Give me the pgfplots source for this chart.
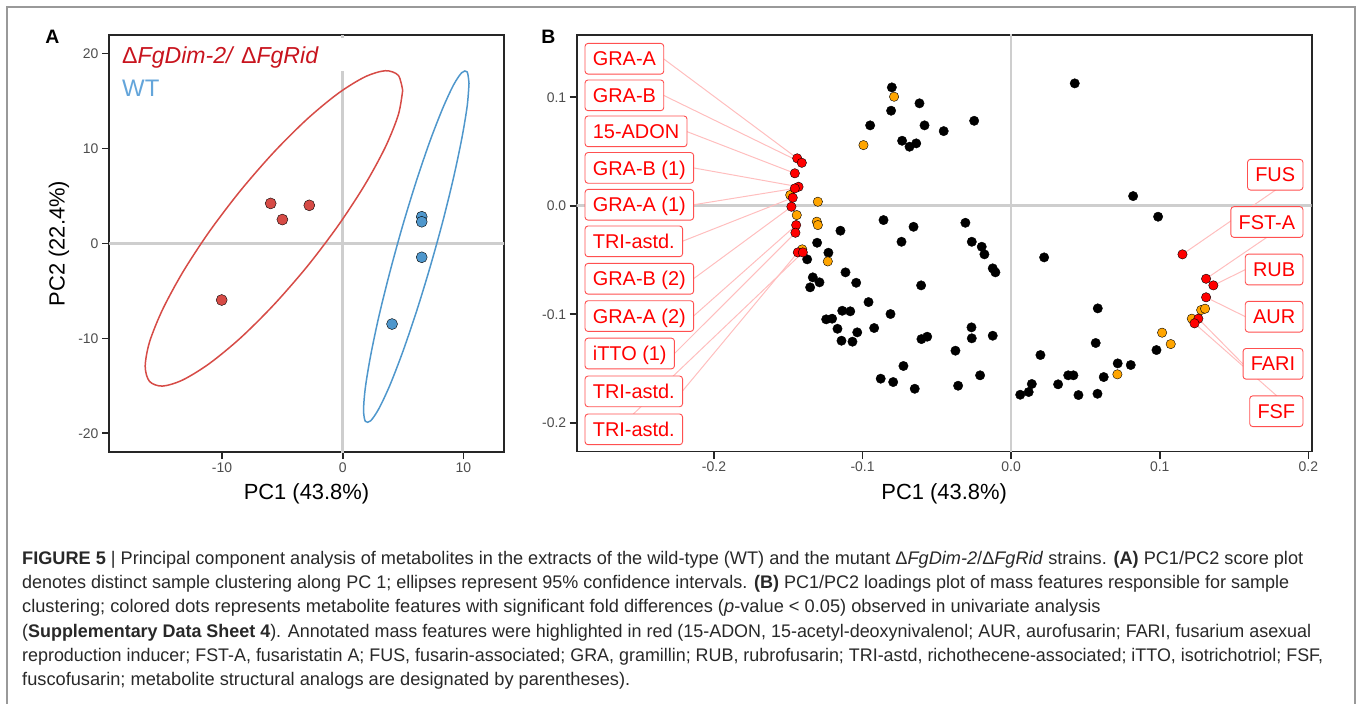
\documentclass[border=0pt]{standalone}
\usepackage{fontspec}
\setmainfont{Liberation Sans}
\usepackage{pgfplots}
\pgfplotsset{compat=1.18}

\definecolor{redA}{RGB}{214,75,70}
\definecolor{blueA}{RGB}{79,151,204}
\definecolor{legred}{RGB}{200,20,30}
\definecolor{legblue}{RGB}{100,165,218}
\definecolor{tickgray}{RGB}{77,77,77}
\definecolor{zerogray}{RGB}{206,206,206}
\definecolor{segpink}{RGB}{255,190,190}
\definecolor{boxred}{RGB}{255,80,80}
\definecolor{dotorange}{RGB}{255,165,0}
\definecolor{captext}{RGB}{40,40,40}

\pgfplotsset{
  pcastyle/.style={
    scale only axis,
    axis line style={line width=1.6bp, black!85},
    tick style={line width=1.6bp, black!85},
    major tick length=7bp,
    tick align=outside, tick pos=left,
    tick label style={font=\fontsize{14}{14}\selectfont, text=tickgray},
  },
  zeroline/.style={zerogray, line width=2.6bp, forget plot},
  seg/.style={segpink, line width=1bp},
}
\tikzset{
  labelbox/.style={draw=boxred, fill=white, rounded corners=3bp, line width=0.9bp,
    text=red, font=\fontsize{20}{20}\selectfont, minimum height=30.7bp,
    inner xsep=7.8bp, inner ysep=0pt, text height=16bp, text depth=1.7bp},
}
% caption line squeezed or stretched to the width it has in the reference
\newcommand{\capline}[2]{\resizebox{#1}{\height}{#2}}

\begin{document}
\begin{tikzpicture}
\useasboundingbox (0bp,0bp) rectangle (1357bp,-704bp);
\draw[gray!80, line width=1.4bp] (7bp,-704bp) -- (7bp,-7bp) -- (1355bp,-7bp) -- (1355bp,-704bp);

% panel letters
\node[font=\bfseries\fontsize{19.5}{19.5}\selectfont, inner sep=0] at (52.5bp,-36.5bp) {A};
\node[font=\bfseries\fontsize{19.5}{19.5}\selectfont, inner sep=0] at (548.5bp,-36.5bp) {B};

% ---------- panel A: scores
\begin{axis}[pcastyle,
  at={(109bp,-452bp)}, anchor=south west,
  width=395bp, height=417bp,
  xmin=-19.37, xmax=13.37, ymin=-21.97, ymax=21.93,
  xtick={-10,0,10}, xticklabels={-10,0,10},
  ytick={-20,-10,0,10,20}, yticklabels={-20,-10,0,10,20},
  xlabel={PC1 (43.8\%)}, ylabel={PC2 (22.4\%)},
  every axis x label/.style={at={(axis description cs:0.5,-0.1007)}, anchor=center,
    font=\fontsize{22}{22}\selectfont},
  every axis y label/.style={at={(axis description cs:-0.1266,0.5)}, rotate=90, anchor=center,
    font=\fontsize{22}{22}\selectfont},
]
\addplot[zeroline] coordinates {(-30,0) (30,0)};
\addplot[zeroline] coordinates {(0,-30) (0,18.14)};
\addplot[zeroline] coordinates {(0,21.58) (0,30)};

% 95% ellipses
\addplot[redA, line width=1.5bp, smooth] coordinates {
(4.97,16.10) (4.61,17.68) (3.54,18.17) (1.84,17.52) (-0.37,15.79) (-2.94,13.09)
(-5.70,9.60) (-8.46,5.57) (-11.04,1.26) (-13.25,-3.03) (-14.94,-7.00) (-16.01,-10.39)
(-16.37,-12.96) (-16.01,-14.54) (-14.94,-15.03) (-13.25,-14.38) (-11.04,-12.65) (-8.46,-9.95)
(-5.70,-6.46) (-2.94,-2.43) (-0.37,1.88) (1.84,6.17) (3.54,10.14) (4.61,13.53) (4.97,16.10)
};
\addplot[blueA, line width=1.5bp, smooth] coordinates {
(10.47,16.84) (10.32,18.04) (9.88,17.98) (9.19,16.68) (8.29,14.21) (7.23,10.75)
(6.10,6.54) (4.97,1.86) (3.92,-2.98) (3.01,-7.63) (2.32,-11.79) (1.88,-15.17)
(1.73,-17.54) (1.88,-18.74) (2.32,-18.68) (3.01,-17.38) (3.92,-14.91) (4.97,-11.45)
(6.10,-7.24) (7.23,-2.56) (8.29,2.28) (9.19,6.93) (9.88,11.09) (10.32,14.47) (10.47,16.84)
};

\addplot[only marks, mark=*, mark size=5.5bp, mark options={draw=none, fill=redA}]
coordinates {(-5.97,4.2) (-5.0,2.5) (-2.77,4.0) (-10.03,-5.97)};
\addplot[only marks, mark=*, mark size=5.5bp, mark options={draw=none, fill=blueA}]
coordinates {(6.55,2.8) (6.55,2.27) (6.55,-1.47) (4.09,-8.5)};
\end{axis}

\node[anchor=base west, inner sep=0, text=legred, font=\fontsize{23.2}{23.2}\selectfont]
  at (122bp,-63.5bp) {Δ\textit{FgDim-2/} Δ\textit{FgRid}};
\node[anchor=base west, inner sep=0, text=legblue, font=\fontsize{24}{24}\selectfont]
  at (122bp,-96bp) {WT};

% ---------- panel B: loadings
\begin{axis}[pcastyle,
  at={(576.7bp,-451.7bp)}, anchor=south west,
  width=735bp, height=416.7bp,
  xmin=-0.2924, xmax=0.2023, ymin=-0.2267, ymax=0.1574,
  xtick={-0.2,-0.1,0,0.1,0.2}, xticklabels={-0.2,-0.1,0.0,0.1,0.2},
  ytick={-0.2,-0.1,0,0.1}, yticklabels={-0.2,-0.1,0.0,0.1},
  xlabel={PC1 (43.8\%)},
  every axis x label/.style={at={(axis description cs:0.5,-0.1008)}, anchor=center,
    font=\fontsize{22}{22}\selectfont},
]
\addplot[zeroline] coordinates {(-1,0) (1,0)};
\addplot[zeroline] coordinates {(0,-1) (0,1)};

% label segments
\addplot[seg] coordinates {(-0.2340,0.1355) (-0.1440,0.0437)};
\addplot[seg] coordinates {(-0.2340,0.1018) (-0.1409,0.0396)};
\addplot[seg] coordinates {(-0.2187,0.0686) (-0.1456,0.0299)};
\addplot[seg] coordinates {(-0.2138,0.0349) (-0.1431,0.0175)};
\addplot[seg] coordinates {(-0.2138,0.0009) (-0.1456,0.0160)};
\addplot[seg] coordinates {(-0.2214,-0.0328) (-0.1470,0.0074)};
\addplot[seg] coordinates {(-0.2138,-0.0673) (-0.1479,-0.0009)};
\addplot[seg] coordinates {(-0.2138,-0.1017) (-0.1447,-0.0178)};
\addplot[seg] coordinates {(-0.2266,-0.1362) (-0.1452,-0.0249)};
\addplot[seg] coordinates {(-0.2214,-0.1711) (-0.1436,-0.0430)};
\addplot[seg] coordinates {(-0.2543,-0.1920) (-0.1402,-0.0430)};
\addplot[seg] coordinates {(0.1780,0.0145) (0.1153,-0.0448)};
\addplot[seg] coordinates {(0.1721,-0.0291) (0.1312,-0.0673)};
\addplot[seg] coordinates {(0.1577,-0.0588) (0.1361,-0.0734)};
\addplot[seg] coordinates {(0.1577,-0.1023) (0.1312,-0.0844)};
\addplot[seg] coordinates {(0.1559,-0.1457) (0.1260,-0.1041)};
\addplot[seg] coordinates {(0.1787,-0.1751) (0.1234,-0.1084)};

% all mass features
\addplot[only marks, mark=*, mark size=4.7bp, mark options={draw=none, fill=black}]
coordinates {
(-0.0803,0.1091) (-0.0617,0.0944) (-0.0808,0.0876) (-0.0949,0.0741) (-0.0583,0.0741)
(-0.0454,0.0688) (-0.0249,0.0783) (-0.0734,0.0599) (-0.0684,0.0544) (-0.0639,0.0575)
(-0.1149,-0.0230) (-0.0859,-0.0132) (-0.0657,-0.0194) (-0.0738,-0.0332) (-0.0308,-0.0157)
(-0.0265,-0.0332) (-0.0198,-0.0378) (-0.0180,-0.0448) (-0.1306,-0.0341) (-0.1230,-0.0433)
(-0.1373,-0.0494) (-0.1115,-0.0614) (-0.1335,-0.0660) (-0.1290,-0.0706) (-0.1353,-0.0752)
(-0.1043,-0.0710) (-0.0606,-0.0734) (-0.0960,-0.0888) (-0.1137,-0.0968) (-0.1083,-0.0973)
(-0.0812,-0.0998) (-0.1245,-0.1047) (-0.1205,-0.1041) (-0.1169,-0.1134) (-0.1036,-0.1167)
(-0.0922,-0.1127) (-0.1142,-0.1244) (-0.1068,-0.1253) (-0.0604,-0.1229) (-0.0565,-0.1207)
(-0.0267,-0.1121) (-0.0265,-0.1222) (-0.0124,-0.1198) (-0.0375,-0.1336) (-0.0725,-0.1477)
(-0.0878,-0.1594) (-0.0794,-0.1625) (-0.0649,-0.1687) (-0.0357,-0.1659) (-0.0209,-0.1563)
(-0.0124,-0.0577) (-0.0106,-0.0614) (0.0428,0.1128) (0.0821,0.0089) (0.0989,-0.0101)
(0.0222,-0.0476) (0.0583,-0.0946) (0.0978,-0.1330) (0.0569,-0.1265) (0.0197,-0.1376)
(0.0717,-0.1453) (0.0805,-0.1468) (0.0623,-0.1579) (0.0384,-0.1563) (0.0419,-0.1563)
(0.0316,-0.1646) (0.0139,-0.1643) (0.0118,-0.1717) (0.0061,-0.1742) (0.0453,-0.1745)
(0.0581,-0.1733)
};
% significant fold differences
\addplot[only marks, mark=*, mark size=4.7bp, mark options={draw=none, fill=dotorange}]
coordinates {
(-0.0788,0.1005) (-0.0994,0.0559) (-0.1487,0.0099) (-0.1443,-0.0086) (-0.1301,0.0037)
(-0.1308,-0.0147) (-0.1301,-0.0178) (-0.1406,-0.0402) (-0.1234,-0.0513) (0.1279,-0.0961)
(0.1305,-0.0949) (0.1216,-0.1041) (0.1016,-0.1170) (0.1074,-0.1275) (0.0715,-0.1554)
};
% annotated features
\addplot[only marks, mark=*, mark size=4.7bp, mark options={draw=none, fill=red}]
coordinates {
(-0.1440,0.0437) (-0.1409,0.0396) (-0.1456,0.0299) (-0.1431,0.0175) (-0.1456,0.0160)
(-0.1470,0.0074) (-0.1479,-0.0009) (-0.1447,-0.0178) (-0.1452,-0.0249) (-0.1436,-0.0430)
(-0.1402,-0.0430)
(0.1153,-0.0448) (0.1312,-0.0673) (0.1361,-0.0734) (0.1312,-0.0844) (0.1260,-0.1041)
(0.1234,-0.1084)
};

\node[labelbox, anchor=west] at (axis cs:-0.2871,0.1355) {GRA-A};
\node[labelbox, anchor=west] at (axis cs:-0.2871,0.1018) {GRA-B};
\node[labelbox, anchor=west] at (axis cs:-0.2871,0.0686) {15-ADON};
\node[labelbox, anchor=west] at (axis cs:-0.2871,0.0349) {GRA-B (1)};
\node[labelbox, anchor=west] at (axis cs:-0.2871,0.0009) {GRA-A (1)};
\node[labelbox, anchor=west] at (axis cs:-0.2871,-0.0328) {TRI-astd.};
\node[labelbox, anchor=west] at (axis cs:-0.2871,-0.0673) {GRA-B (2)};
\node[labelbox, anchor=west] at (axis cs:-0.2871,-0.1017) {GRA-A (2)};
\node[labelbox, anchor=west] at (axis cs:-0.2871,-0.1362) {iTTO (1)};
\node[labelbox, anchor=west] at (axis cs:-0.2871,-0.1711) {TRI-astd.};
\node[labelbox, anchor=west] at (axis cs:-0.2871,-0.2061) {TRI-astd.};
\node[labelbox, anchor=east] at (axis cs:0.1967,0.0286) {FUS};
\node[labelbox, anchor=east] at (axis cs:0.1967,-0.0150) {FST-A};
\node[labelbox, anchor=east] at (axis cs:0.1967,-0.0588) {RUB};
\node[labelbox, anchor=east] at (axis cs:0.1967,-0.1023) {AUR};
\node[labelbox, anchor=east] at (axis cs:0.1967,-0.1457) {FARI};
\node[labelbox, anchor=east] at (axis cs:0.1967,-0.1894) {FSF};
\end{axis}

% ---------- caption
\begin{scope}[every node/.style={anchor=base west, inner sep=0, text=captext,
    font=\fontsize{18.3}{18.3}\selectfont}]
\node at (22bp,-564bp) {\capline{1281bp}{\textbf{FIGURE 5} | Principal component analysis of metabolites in the extracts of the wild-type (WT) and the mutant Δ\textit{FgDim-2}/Δ\textit{FgRid} strains. \textbf{(A)} PC1/PC2 score plot}};
\node at (22bp,-588bp) {\capline{1267bp}{denotes distinct sample clustering along PC 1; ellipses represent 95\% confidence intervals. \textbf{(B)} PC1/PC2 loadings plot of mass features responsible for sample}};
\node at (22bp,-612bp) {clustering; colored dots represents metabolite features with significant fold differences (\textit{p}-value < 0.05) observed in univariate analysis};
\node at (22bp,-637bp) {\capline{1289bp}{(\textbf{Supplementary Data Sheet 4}). Annotated mass features were highlighted in red (15-ADON, 15-acetyl-deoxynivalenol; AUR, aurofusarin; FARI, fusarium asexual}};
\node at (22bp,-661bp) {\capline{1301bp}{reproduction inducer; FST-A, fusaristatin A; FUS, fusarin-associated; GRA, gramillin; RUB, rubrofusarin; TRI-astd, richothecene-associated; iTTO, isotrichotriol; FSF,}};
\node at (22bp,-685bp) {fuscofusarin; metabolite structural analogs are designated by parentheses).};
\end{scope}
\end{tikzpicture}
\end{document}
